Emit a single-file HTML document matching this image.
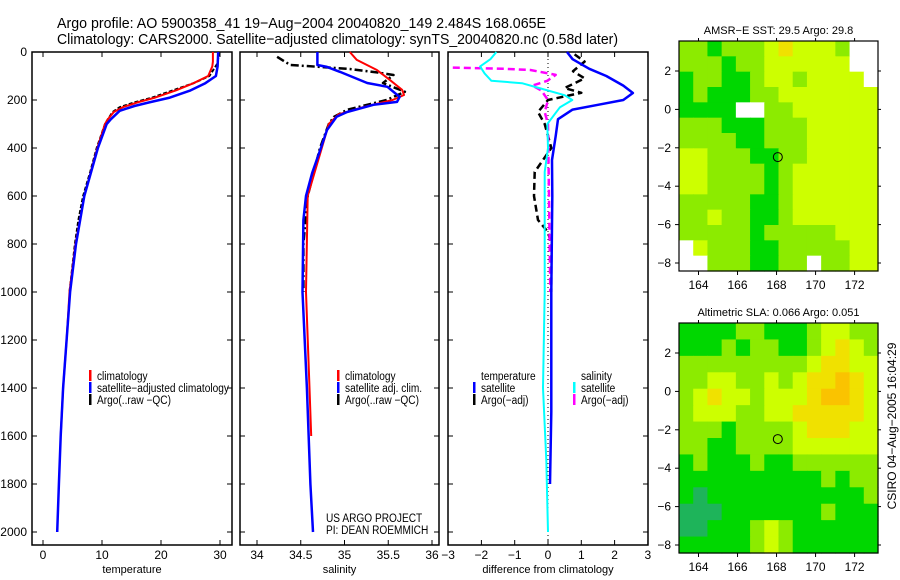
<!DOCTYPE html>
<html><head><meta charset="utf-8">
<style>
html,body{margin:0;padding:0;background:#fff;}
svg{display:block;font-family:"Liberation Sans",sans-serif;}
</style></head>
<body>
<svg id="fig" width="900" height="580" viewBox="0 0 900 580" xmlns="http://www.w3.org/2000/svg">
<text x="57" y="28" font-size="15" textLength="489" lengthAdjust="spacingAndGlyphs">Argo profile: AO 5900358_41 19−Aug−2004 20040820_149 2.484S 168.065E</text>
<text x="57" y="44" font-size="15" textLength="561" lengthAdjust="spacingAndGlyphs">Climatology: CARS2000. Satellite−adjusted climatology: synTS_20040820.nc (0.58d later)</text>
<g id="plots"></g>
<g id="maps"></g>
<text transform="translate(896,426) rotate(-90)" text-anchor="middle" font-size="12">CSIRO 04−Aug−2005 16:04:29</text>
</svg>
<script>
// ---------- profile data ----------
const tempDepthClim = [0,40,60,100,130,160,190,210,230,250,280,300,400,600,800,1000,1200,1400,1600];
const tempClim      = [28.8,28.8,28.7,28,25.5,22.5,19,16,13.5,12,11,10.5,9.2,7,5.5,4.5,4,3.4,3];
const tempDepthSat  = [0,60,100,130,160,190,210,225,245,280,300,400,600,800,1000,1200,1400,1600,1800,2000];
const tempSat       = [29.7,29.6,29.3,27.5,25,21.5,18,15.5,13,11.5,10.8,9.3,7,5.6,4.6,4,3.4,3,2.7,2.4];
const tempDepthArgo = [0,50,100,130,160,190,210,230,250,280,300,400,500,600,700,800,1000];
const tempArgo      = [29.9,29.5,28.2,25.5,22,18.5,15.5,13,11.8,11,10.5,9.1,8,6.8,6,5.4,4.5];

const salDepthClim = [0,33,75,117,158,179,200,230,260,300,400,600,1000,1400,1600];
const salClim      = [35.06,35.14,35.37,35.52,35.66,35.68,35.55,35.21,34.93,34.82,34.74,34.58,34.56,34.6,34.62];
const salDepthSat  = [0,54,62,83,129,145,187,208,220,250,270,325,400,505,600,700,1000,1400,1800,2000];
const salSat       = [34.69,34.69,34.8,34.95,35.26,35.49,35.63,35.6,35.33,35.03,34.91,34.8,34.73,34.63,34.56,34.53,34.52,34.57,34.61,34.64];
const salDepthArgo = [20,54,62,71,85,96,129,166,200,241,270,300,400,600,800,1000];
const salArgo      = [34.23,34.38,34.72,35.06,35.37,35.56,35.44,35.69,35.48,35.03,34.88,34.82,34.72,34.58,34.53,34.53];

const dTempDepthSat = [0,30,70,100,140,171,200,220,240,280,350,450,600,1000,1500,1800];
const dTempSat      = [0.57,0.74,1.24,1.75,2.26,2.55,2.26,1.5,0.74,0.3,0.23,0.12,0.13,0.1,0.1,0.06];
const dTempDepthArgo= [10,40,80,110,150,170,200,250,300,400,450,500,600,700,750,800,1000];
const dTempArgo     = [0.8,1.1,0.75,1.1,0.5,1.0,0,-0.3,-0.1,0.1,-0.15,-0.4,-0.42,-0.3,0,0.1,0.1];
const dSalDepthSat  = [0,30,60,90,120,130,150,180,200,230,300,400,500,1000,1400,1700,2000];
const dSalSat       = [-1.55,-1.73,-2.04,-1.9,-1.7,-0.78,-0.27,0.5,0.73,0.36,-0.02,0,-0.1,-0.1,-0.15,-0.05,0];
const dSalDepthArgo = [65,70,75,95,120,140,160,200,250,300,1000];
const dSalArgo      = [-2.86,-1.3,-0.53,0.23,-0.02,-0.47,-0.2,0,-0.1,0,0.07];

const depthTicks = [0,200,400,600,800,1000,1200,1400,1600,1800,2000];
const tempTicks = [0,10,20,30];
const salTicks = [34,34.5,35,35.5,36];
const diffTicks = [-3,-2,-1,0,1,2,3];

// ---------- map data (coarse grid values) ----------
const sstRows = [
 [1,1,0,1,1,1,2,3,2,2,2,1,-9,-9],
 [1,1,1,0,1,1,2,2,2,2,2,2,-9,-9],
 [0,1,1,0,0,1,2,2,1,2,2,2,2,-9],
 [0,1,0,0,0,1,1,2,2,2,2,2,2,2],
 [0,0,0,0,-9,-9,1,1,2,2,2,2,2,2],
 [1,1,1,0,0,0,1,1,1,2,2,2,2,2],
 [1,1,1,1,0,0,1,1,1,2,2,2,2,2],
 [2,2,1,1,1,0,0,1,1,2,2,2,2,2],
 [2,2,1,1,1,1,0,1,2,2,2,2,2,2],
 [2,2,1,1,1,1,0,1,2,2,2,2,2,2],
 [1,1,1,1,1,0,0,1,2,2,2,2,2,2],
 [1,1,2,1,1,0,0,1,2,2,2,2,2,2],
 [1,1,1,1,1,0,1,1,1,1,1,2,2,2],
 [-9,2,1,1,1,0,0,1,1,1,1,1,2,2],
 [-9,-9,1,1,1,0,0,1,1,-9,1,1,2,2]
];
const slaRows = [
 [0,0,0,0,1,1,0,0,0,1,2,2,1,1],
 [0,0,0,1,0,1,1,0,0,1,2,3,2,1],
 [1,1,1,1,1,1,1,1,1,2,3,3,2,2],
 [1,1,2,2,1,1,2,1,2,3,3,4,3,2],
 [1,2,3,2,2,1,2,2,2,3,4,4,3,2],
 [1,2,2,2,1,1,2,2,3,3,3,3,3,2],
 [1,1,1,0,1,1,1,1,2,3,3,3,2,2],
 [1,1,0,0,1,1,1,1,2,2,2,2,2,2],
 [0,1,0,0,0,1,0,0,1,1,1,1,1,1],
 [0,0,0,0,0,0,0,0,0,0,1,0,1,1],
 [0,-1,0,0,0,0,0,0,0,0,0,0,0,1],
 [-1,-1,-1,0,0,0,0,0,0,0,1,0,0,0],
 [-1,-1,0,0,0,1,2,1,0,0,0,0,0,0],
 [0,0,0,0,0,1,2,1,0,0,0,0,0,0]
];
const lonTicks = [164,166,168,170,172];
const latTicks = [2,0,-2,-4,-6,-8];
const argoLon = 168.065, argoLat = -2.484;

const NS = "http://www.w3.org/2000/svg";
function mk(tag, attrs, parent){const e=document.createElementNS(NS,tag);for(const k in attrs)e.setAttribute(k,attrs[k]);parent.appendChild(e);return e;}
const plots = document.getElementById('plots');
const maps = document.getElementById('maps');

const TOP=52, BOT=545;
const yD = d => TOP + d*0.24;

function panel(name, x0, x1, xScale, ticks, fmt, title){
  const g = mk('g',{},plots);
  
  
  const fr = mk('rect',{x:x0,y:TOP,width:x1-x0,height:BOT-TOP,fill:'none',stroke:'#000','stroke-width':1.5},g);
  
  
  depthTicks.forEach(d=>{
    const y=yD(d);
    mk('line',{x1:x0,x2:x0+5,y1:y,y2:y,stroke:'#000'},g);
    mk('line',{x1:x1-5,x2:x1,y1:y,y2:y,stroke:'#000'},g);
  });
  ticks.forEach(t=>{
    const x=xScale(t);
    mk('line',{x1:x,x2:x,y1:BOT,y2:BOT-5,stroke:'#000'},g);
    mk('line',{x1:x,x2:x,y1:TOP,y2:TOP+5,stroke:'#000'},g);
    const tl = mk('text',{x:x,y:559,'font-size':12,'text-anchor':'middle'},g);
    tl.textContent = fmt(t);
    
    
  });
  const tt = mk('text',{x:(x0+x1)/2,y:573,'font-size':11,'text-anchor':'middle'},g);
  tt.textContent = title;
  
  
  return g;
}
function line(g, name, xs, ds, xScale, color, dash, w){
  const pts = xs.map((v,i)=>xScale(v).toFixed(1)+','+yD(ds[i]).toFixed(1)).join(' ');
  const p = mk('polyline',{points:pts,fill:'none',stroke:color,'stroke-width':w||2,'stroke-linejoin':'round'},g);
  if(dash) p.setAttribute('stroke-dasharray',dash);
  
  
}
function legend(g, x, y, color, label, name){
  if(color){ mk('rect',{x:x,y:y-6,width:2.5,height:11,fill:color},g); }
  const t = mk('text',{x:x+8,y:y+4,'font-size':11.5,lengthAdjust:'spacingAndGlyphs'},g);
  t.textContent = label;
  
  
  const w = t.getComputedTextLength();
  if(w>0) t.setAttribute('textLength', (w*0.88).toFixed(1));
}

depthTicks.forEach(d=>{
  const t = mk('text',{x:27,y:yD(d)+4,'font-size':12,'text-anchor':'end'},plots);
  t.textContent = d;
  
  
});

const xT = v => 43 + v*5.9;
const g1 = panel('temperature-panel',32,232,xT,tempTicks,v=>v,'temperature');
line(g1,'temperature-argo-line',tempArgo,tempDepthArgo,xT,'#000','4,2',2);
line(g1,'temperature-climatology-line',tempClim,tempDepthClim,xT,'#f00',null,2);
line(g1,'temperature-satellite-line',tempSat,tempDepthSat,xT,'#00f',null,2.5);
legend(g1,89,376,'#f00','climatology','legend-climatology');
legend(g1,89,388,'#00f','satellite−adjusted climatology','legend-satellite-adjusted');
legend(g1,89,400,'#000','Argo(..raw −QC)','legend-argo');

const xS = v => 257 + (v-34)*87.5;
const g2 = panel('salinity-panel',240,439,xS,salTicks,v=>v,'salinity');
line(g2,'salinity-argo-line',salArgo,salDepthArgo,xS,'#000','8,3,2,3',2.5);
line(g2,'salinity-climatology-line',salClim,salDepthClim,xS,'#f00',null,2);
line(g2,'salinity-satellite-line',salSat,salDepthSat,xS,'#00f',null,2.5);
legend(g2,337,376,'#f00','climatology','legend-climatology-sal');
legend(g2,337,388,'#00f','satellite adj. clim.','legend-satellite-sal');
legend(g2,337,400,'#000','Argo(..raw −QC)','legend-argo-sal');
legend(g2,318,518,null,'US ARGO PROJECT','credit-project');
legend(g2,318,530,null,'PI: DEAN ROEMMICH','credit-pi');

const xDf = v => 548 + v*33.3;
const g3 = panel('difference-panel',448,648,xDf,diffTicks,v=>v<0?'−'+(-v):v,'difference from climatology');
mk('line',{x1:xDf(0),x2:xDf(0),y1:TOP+3,y2:BOT-3,stroke:'#000','stroke-width':1,'stroke-dasharray':'1,3'},g3);
line(g3,'diff-temperature-argo-line',dTempArgo,dTempDepthArgo,xDf,'#000','7,4',2.5);
line(g3,'diff-salinity-argo-line',dSalArgo,dSalDepthArgo,xDf,'#f0f','7,4',2.5);
line(g3,'diff-temperature-satellite-line',dTempSat,dTempDepthSat,xDf,'#00f',null,2.5);
line(g3,'diff-salinity-satellite-line',dSalSat,dSalDepthSat,xDf,'#0ff',null,2);
legend(g3,473,376,null,'temperature','legend-temperature-head');
legend(g3,473,388,'#00f','satellite','legend-temp-satellite');
legend(g3,473,400,'#000','Argo(−adj)','legend-temp-argo');
legend(g3,573,376,null,'salinity','legend-salinity-head');
legend(g3,573,388,'#0ff','satellite','legend-sal-satellite');
legend(g3,573,400,'#f0f','Argo(−adj)','legend-sal-argo');

function color(v){
  if(v===-9) return '#ffffff';
  const stops={'-1':[30,180,90],'0':[0,215,0],'1':[140,235,0],'2':[205,255,0],'3':[240,225,0],'4':[250,195,0]};
  const c=stops[String(v)]; return 'rgb('+c.join(',')+')';
}
function map(name, top, title, rows){
  const g = mk('g',{},maps);
  
  
  const x0=679,x1=878,bot=top+230;
  const lonMin=163.0,lonMax=173.2;
  const px = lon => x0 + (lon-lonMin)*(x1-x0)/(lonMax-lonMin);
  const latTop = 2 + 30/19.2;
  const py = lat => top + (latTop-lat)*19.2;
  const nr=rows.length, nc=rows[0].length;
  const cw=(x1-x0)/nc, ch=(bot-top)/nr;
  rows.forEach((r,i)=>r.forEach((v,j)=>{
    mk('rect',{x:(x0+j*cw).toFixed(2),y:(top+i*ch).toFixed(2),width:(cw+0.6).toFixed(2),height:(ch+0.6).toFixed(2),fill:color(v)},g);
  }));
  const fr = mk('rect',{x:x0,y:top,width:x1-x0,height:bot-top,fill:'none',stroke:'#000','stroke-width':1.2},g);
  
  
  const tt = mk('text',{x:(x0+x1)/2,y:top-7,'font-size':11,'text-anchor':'middle'},g);
  tt.textContent = title;
  
  
  lonTicks.forEach(l=>{
    const x=px(l);
    mk('line',{x1:x,x2:x,y1:bot,y2:bot+4,stroke:'#000'},g);
    mk('line',{x1:x,x2:x,y1:top,y2:top-3,stroke:'#000'},g);
    const t = mk('text',{x:x,y:bot+18,'font-size':12,'text-anchor':'middle'},g);
    t.textContent = l;
    
    
  });
  latTicks.forEach(l=>{
    const y=py(l);
    mk('line',{x1:x0-4,x2:x0,y1:y,y2:y,stroke:'#000'},g);
    mk('line',{x1:x1,x2:x1+3,y1:y,y2:y,stroke:'#000'},g);
    const t = mk('text',{x:x0-8,y:y+4,'font-size':12,'text-anchor':'end'},g);
    t.textContent = l<0?'−'+(-l):l;
    
    
  });
  const c = mk('circle',{cx:px(argoLon),cy:py(argoLat),r:4.5,fill:'none',stroke:'#000','stroke-width':1},g);
  
  
}
map('sst-map',41,'AMSR−E SST: 29.5 Argo: 29.8',sstRows);
map('sla-map',323,'Altimetric SLA: 0.066 Argo: 0.051',slaRows);
</script>
</body></html>
